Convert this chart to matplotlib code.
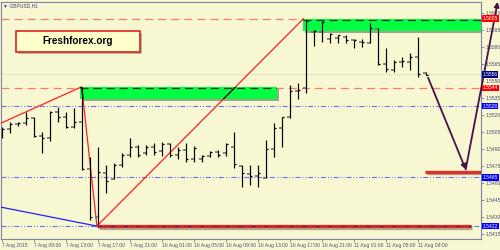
import matplotlib
matplotlib.use('Agg')
import matplotlib.pyplot as plt
import matplotlib.patches as mpatches
import matplotlib.patheffects as pe

plt.rcParams['lines.scale_dashes'] = False
plt.rcParams['font.family'] = ['Liberation Sans', 'DejaVu Sans']

# ---------------- data ----------------
symbol = "GBPUSD,H1"
brand = "Freshforex.org"

time_labels = ["7 Aug 2015", "7 Aug 09:00", "7 Aug 13:00", "7 Aug 17:00", "7 Aug 21:00",
               "10 Aug 01:00", "10 Aug 05:00", "10 Aug 09:00", "10 Aug 13:00",
               "10 Aug 17:00", "10 Aug 21:00", "11 Aug 01:00", "11 Aug 05:00", "11 Aug 09:00"]
label_bars = [0, 4, 8, 12, 16, 20, 24, 28, 32, 36, 40, 44, 48, 52]

opens = [1.55024, 1.55077, 1.55121, 1.55130, 1.55174, 1.55015, 1.54998, 1.55227, 1.55183, 1.55095,
         1.55139, 1.54720, 1.54300, 1.54689, 1.54636, 1.54759, 1.54848, 1.54914, 1.54865, 1.54918,
         1.54883, 1.54945, 1.54848, 1.54892, 1.54812, 1.54812, 1.54839, 1.54874, 1.54863, 1.54918,
         1.54753, 1.54680, 1.54662, 1.54645, 1.54901, 1.55089, 1.55183, 1.55415, 1.55437, 1.55938,
         1.55931, 1.55872, 1.55881, 1.55890, 1.55863, 1.55845, 1.55839, 1.55958, 1.55651, 1.55598,
         1.55671, 1.55671, 1.55716, 1.55569]
highs = [1.55098, 1.55142, 1.55142, 1.55225, 1.55183, 1.55053, 1.55239, 1.55274, 1.55225, 1.55260,
         1.55448, 1.54833, 1.54921, 1.54759, 1.54774, 1.54863, 1.54995, 1.54936, 1.54936, 1.54951,
         1.54965, 1.54951, 1.54921, 1.54951, 1.54927, 1.54848, 1.54886, 1.54892, 1.54951, 1.55053,
         1.54759, 1.54759, 1.54759, 1.54980, 1.55133, 1.55186, 1.55466, 1.55481, 1.56040, 1.55951,
         1.56033, 1.55922, 1.55907, 1.55907, 1.55869, 1.55869, 1.56011, 1.55966, 1.55790, 1.55686,
         1.55716, 1.55751, 1.55892, 1.55583]
lows = [1.54995, 1.55045, 1.55104, 1.55112, 1.55007, 1.54868, 1.54974, 1.55142, 1.55083, 1.55083,
        1.54715, 1.54274, 1.54223, 1.54509, 1.54633, 1.54744, 1.54833, 1.54833, 1.54848, 1.54848,
        1.54839, 1.54833, 1.54810, 1.54788, 1.54788, 1.54788, 1.54827, 1.54833, 1.54839, 1.54730,
        1.54565, 1.54583, 1.54562, 1.54642, 1.54833, 1.54921, 1.55174, 1.55339, 1.55392, 1.55810,
        1.55848, 1.55839, 1.55839, 1.55839, 1.55790, 1.55804, 1.55834, 1.55642, 1.55583, 1.55583,
        1.55627, 1.55598, 1.55534, 1.55554]
closes = [1.55077, 1.55121, 1.55130, 1.55174, 1.55015, 1.54998, 1.55227, 1.55183, 1.55095, 1.55139,
          1.54720, 1.54300, 1.54698, 1.54621, 1.54759, 1.54848, 1.54914, 1.54848, 1.54918, 1.54874,
          1.54945, 1.54848, 1.54892, 1.54812, 1.54909, 1.54839, 1.54877, 1.54848, 1.54945, 1.54766,
          1.54689, 1.54662, 1.54691, 1.54901, 1.55086, 1.55183, 1.55415, 1.55426, 1.56033, 1.55945,
          1.56025, 1.55920, 1.55903, 1.55863, 1.55867, 1.55848, 1.55966, 1.55651, 1.55604, 1.55671,
          1.55678, 1.55710, 1.55563, 1.55558]

price_ticks = [1.5415, 1.5430, 1.5445, 1.5460, 1.5475, 1.5490, 1.5505, 1.5520, 1.5535,
               1.5550, 1.5565, 1.5580, 1.5595, 1.5610]

red_levels = [1.5605, 1.5544]
blue_levels = [1.5528, 1.5465, 1.5422]
bid_price = 1.5556

# zones: (bar start, bar end, low, high)
zones = [(9.8, 34.4, 1.5534, 1.5545), (37.6, 62.0, 1.5594, 1.5605)]

red_trend_x = [-1.0, 10.0, 11.9, 37.7]
red_trend_y = [1.5510, 1.5545, 1.5422, 1.5605]
blue_trend_x = [-1.0, 11.9]
blue_trend_y = [1.5440, 1.5422]

# thick support segments: (bar start, bar end, price)
supports = [(11.9, 58.6, 1.5422), (52.9, 60.5, 1.5470)]

arrow_x = [53.3, 58.0, 62.0]
arrow_y = [1.5553, 1.5472, 1.5620]

price_tags = [(1.5605, '#ff0000'), (1.5556, '#000080'), (1.5544, '#ff0000'),
              (1.5528, '#0000ff'), (1.5465, '#0000ff'), (1.5422, '#0000ff')]

# ---------------- style ----------------
BG = '#f7f7d2'
FRAME = '#8080a8'
TXT = '#505070'
RED_DASH = '#ff7a66'
BLUE_DD = '#6a6aff'
GREEN = '#00ff40'
PURPLE = '#4a1048'

fig = plt.figure(figsize=(5, 2.5), dpi=100, facecolor=BG)
ax = fig.add_axes([1.2 / 500, 11 / 250, 479.3 / 500, 237.5 / 250], facecolor=BG)
ax.set_xlim(-0.0625, 59.85)
ax.set_ylim(1.54106, 1.56203)

dd = (0, (3.6, 1.4, 0.7, 1.4, 0.7, 1.4))
dash = (0, (5.8, 3.6))

# bid line
ax.axhline(bid_price, color='#e2e2c4', lw=0.8, zorder=1)

# horizontal levels
for p in red_levels:
    ax.axhline(p, color=RED_DASH, lw=0.9, linestyle=dash, zorder=2)
for p in blue_levels:
    ax.axhline(p, color=BLUE_DD, lw=0.8, linestyle=dd, zorder=2)

# zones
for (x0, x1, lo, hi) in zones:
    r = mpatches.Rectangle((x0, lo), x1 - x0, hi - lo, facecolor=GREEN, edgecolor='none', zorder=3,
                           path_effects=[pe.SimplePatchShadow(offset=(1.5, -1.5), shadow_rgbFace='#607060', alpha=0.6),
                                         pe.Normal()])
    ax.add_patch(r)
    ln = ax.plot([x0, x1], [hi - 0.00007, hi - 0.00007], color='#1c3a1c', lw=0.9, linestyle=dash, zorder=4)[0]
    ln.set_clip_path(r)
    tl = ax.plot(red_trend_x, red_trend_y, color='#102010', lw=0.9, zorder=4)[0]
    tl.set_clip_path(r)

# trend lines
ax.plot(red_trend_x, red_trend_y, color='#ff2020', lw=0.9, zorder=3.5)
ax.plot(blue_trend_x, blue_trend_y, color='#2020ff', lw=0.9, zorder=3.5)

# bars
n = len(opens)
xs = list(range(n))
ax.vlines(xs, lows, highs, color='black', lw=0.85, zorder=5)
ax.hlines(opens, [x - 0.33 for x in xs], xs, color='#707070', lw=1.2, zorder=5)
ax.hlines(closes, xs, [x + 0.33 for x in xs], color='black', lw=0.9, zorder=5)

# thick support lines
for (x0, x1, p) in supports:
    ax.plot([x0, x1], [p, p], color='#d8302c', lw=2.4, solid_capstyle='butt', zorder=6,
            path_effects=[pe.SimpleLineShadow(offset=(1.2, -1.2), shadow_color='#706050', alpha=0.5),
                          pe.Normal()])
x0, x1, p = supports[0]
ax.plot([x0, x1], [p, p], color='#701848', lw=0.8, linestyle=dd, zorder=6.5)

# arrows
for k in range(len(arrow_x) - 1):
    a = ax.annotate('', xy=(arrow_x[k + 1], arrow_y[k + 1]), xytext=(arrow_x[k], arrow_y[k]),
                    arrowprops=dict(arrowstyle='-|>', color=PURPLE, lw=1.3, mutation_scale=7,
                                    shrinkA=0, shrinkB=0),
                    annotation_clip=False, zorder=7)
    a.arrow_patch.set_clip_on(False)

# axes styling
for s in ax.spines.values():
    s.set_color(FRAME)
    s.set_linewidth(0.8)
ax.yaxis.tick_right()
ax.set_yticks(price_ticks)
ax.set_yticklabels([f"{p:.4f}" for p in price_ticks])
ax.tick_params(axis='y', direction='out', length=2.5, width=0.6, colors=FRAME, labelcolor=TXT,
               labelsize=3.6, pad=1.2)
ax.set_xticks(label_bars)
ax.set_xticklabels(time_labels, ha='left')
ax.tick_params(axis='x', direction='out', length=2.0, width=0.6, colors=FRAME, labelcolor=TXT,
               labelsize=3.6, pad=1.0)

# price tags
for p, c in price_tags:
    ax.text(1.004, p, f"{p:.4f}", transform=ax.get_yaxis_transform(), ha='left', va='center',
            fontsize=3.6, color='white', zorder=10, clip_on=False,
            bbox=dict(boxstyle='square,pad=0.18', facecolor=c, edgecolor='none'))

# title
fig.text(3 / 500, 1 - 6 / 250, "\u25bc " + symbol, fontsize=3.6, color='#404078', ha='left', va='center')

# brand box
box = mpatches.Rectangle((16 / 500, 1 - 52 / 250), 124 / 500, 21 / 250, transform=fig.transFigure,
                         facecolor='#ffffcc', edgecolor='#e01010', lw=1.1, zorder=20,
                         path_effects=[pe.SimplePatchShadow(offset=(1.5, -1.5), shadow_rgbFace='#909080', alpha=0.6),
                                       pe.Normal()])
fig.patches.append(box)
fig.text(78 / 500, 1 - 41.5 / 250, brand, fontsize=7.2, fontweight='bold', color='black',
         ha='center', va='center', zorder=21)

fig.savefig('out.png', dpi=100, facecolor=BG)
